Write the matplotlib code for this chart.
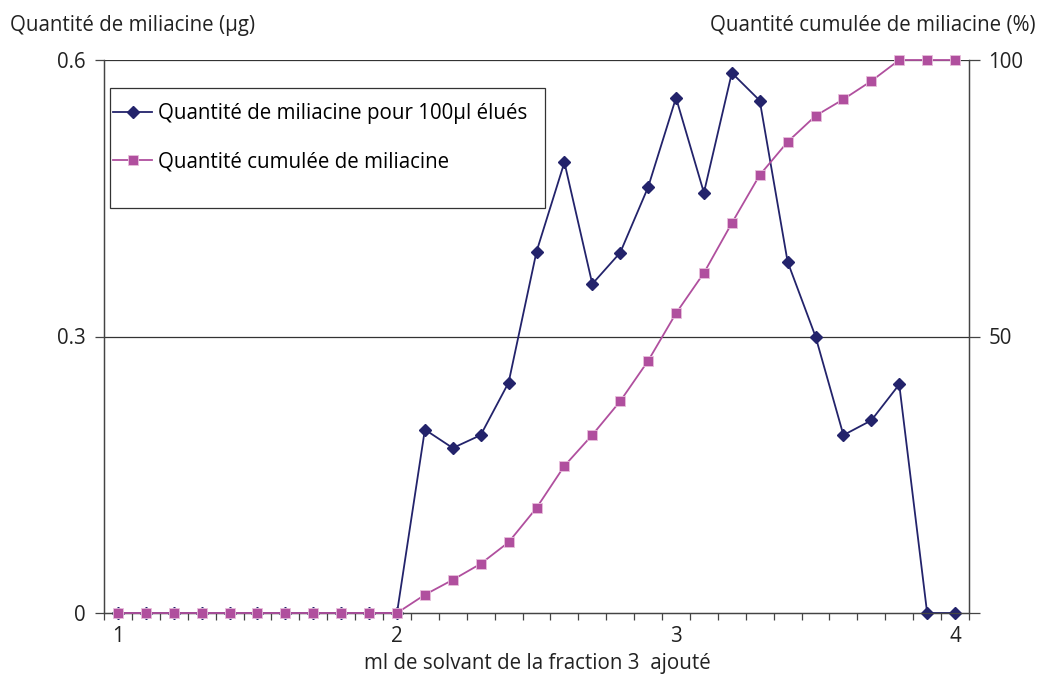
import matplotlib
matplotlib.use("Agg")
import matplotlib.pyplot as plt
from matplotlib.patches import Rectangle
from matplotlib.lines import Line2D

plt.rcParams['font.family'] = ['Open Sans', 'DejaVu Sans']

volume_ml = [1.0, 1.1, 1.2, 1.3, 1.4, 1.5, 1.6, 1.7, 1.8, 1.9, 2.0,
             2.1, 2.2, 2.3, 2.4, 2.5, 2.6, 2.7, 2.8, 2.9, 3.0,
             3.1, 3.2, 3.3, 3.4, 3.5, 3.6, 3.7, 3.8, 3.9, 4.0]
quantite_ug = [0, 0, 0, 0, 0, 0, 0, 0, 0, 0, 0,
               0.199, 0.179, 0.193, 0.250, 0.392, 0.489, 0.357, 0.391, 0.462, 0.559,
               0.456, 0.586, 0.556, 0.381, 0.300, 0.193, 0.209, 0.248, 0, 0]
cumul_pct = [0, 0, 0, 0, 0, 0, 0, 0, 0, 0, 0,
             3.3, 6.0, 8.9, 12.8, 19.0, 26.6, 32.2, 38.3, 45.6, 54.2,
             61.5, 70.5, 79.2, 85.2, 89.9, 92.9, 96.2, 100, 100, 100]
x_labels = ['1', '2', '3', '4']
x_label_pos = [1.0, 2.0, 3.0, 4.0]
left_ticks = [0, 0.3, 0.6]
left_ticklabels = ['0', '0.3', '0.6']
right_ticks = [0, 50, 100]
right_ticklabels = ['', '50', '100']

label_blue = 'Quantité de miliacine pour 100µl élués'
label_pink = 'Quantité cumulée de miliacine'

navy = '#23236b'
pink = '#b04f9e'
axis_col = '#444444'
fs = 14.8

fig = plt.figure(figsize=(10.41, 6.75), dpi=100)
ax = fig.add_axes([104/1041, 1-613/675, 865/1041, 553/675])
ax2 = ax.twinx()

ax.set_xlim(0.95, 4.05)
ax.set_ylim(0, 0.6)
ax2.set_ylim(0, 100)

for y in [0.3, 0.6]:
    ax.axhline(y, color='#333333', lw=0.9, zorder=1)

ax.plot(volume_ml, quantite_ug, color=navy, lw=1.3, marker='D', ms=6.3,
        mfc=navy, mec=navy, clip_on=False, zorder=3)
ax2.plot(volume_ml, cumul_pct, color=pink, lw=1.3, marker='s', ms=7,
         mfc=pink, mec='#e8c0dc', mew=0.6, clip_on=False, zorder=4)

for a in (ax, ax2):
    a.spines['top'].set_visible(False)
    for s in ['left', 'right', 'bottom']:
        a.spines[s].set_color(axis_col)
        a.spines[s].set_linewidth(0.9)

ax.set_yticks(left_ticks)
ax.set_yticklabels(left_ticklabels, fontsize=fs, color='#222222')
ax.tick_params(axis='y', direction='out', length=6.5, width=0.9, color=axis_col, pad=7)
ax2.set_yticks(right_ticks)
ax2.set_yticklabels(right_ticklabels, fontsize=fs, color='#222222')
ax2.tick_params(axis='y', direction='out', length=8, width=0.9, color=axis_col, pad=6)

ax.set_xticks(x_label_pos)
ax.set_xticklabels(x_labels, fontsize=fs, color='#222222')
ax.tick_params(axis='x', length=0, pad=9)
minor = [round(0.95 + 0.1 * i, 2) for i in range(32)]
ax.set_xticks(minor, minor=True)
ax.tick_params(axis='x', which='minor', direction='out', length=5, width=0.9, color=axis_col)
ax2.set_xlim(0.95, 4.05)

fig.text(10/1041, 1-25/675, 'Quantité de miliacine (µg)', fontsize=fs, ha='left', va='center', color='#222222')
fig.text(1036/1041, 1-25/675, 'Quantité cumulée de miliacine (%)', fontsize=fs, ha='right', va='center', color='#222222')
fig.text(537/1041, 1-663/675, 'ml de solvant de la fraction 3  ajouté', fontsize=fs, ha='center', va='center', color='#222222')

# legend box
x0, y0 = 110, 88
x1, y1 = 545, 208
rect = Rectangle((x0/1041, 1-y1/675), (x1-x0)/1041, (y1-y0)/675, transform=fig.transFigure,
                 fill=True, facecolor='white', edgecolor='#333333', lw=0.9, zorder=10)
fig.patches.append(rect)
h1 = Line2D([], [], color=navy, lw=1.3, marker='D', ms=6.3, mfc=navy, mec=navy)
h2 = Line2D([], [], color=pink, lw=1.3, marker='s', ms=7, mfc=pink, mec='#e8c0dc', mew=0.6)
leg = fig.legend([h1, h2], [label_blue, label_pink], loc='upper left',
                 bbox_to_anchor=(99/1041, 1-89/675), frameon=False, fontsize=fs,
                 handlelength=1.9, handletextpad=0.25, labelspacing=1.3, borderpad=0.2)
leg.set_zorder(11)

fig.savefig('out.png', dpi=100)
